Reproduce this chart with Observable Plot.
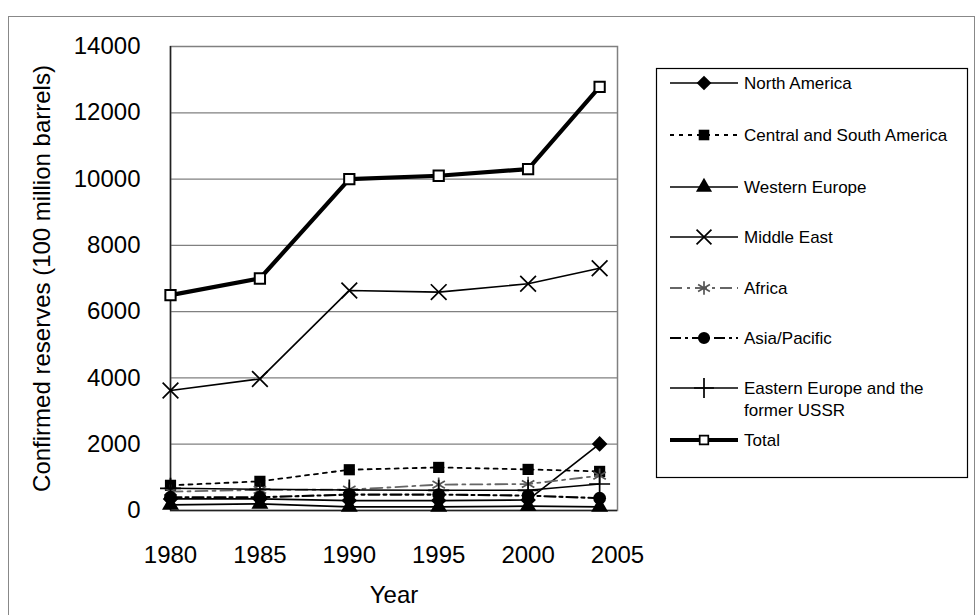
<!DOCTYPE html>
<html><head><meta charset="utf-8">
<script src="https://cdn.jsdelivr.net/npm/d3@7"></script>
<script src="https://cdn.jsdelivr.net/npm/@observablehq/plot@0.6"></script>
<style>
body{margin:0;background:#fff;}
#wrap{position:relative;width:976px;height:615px;overflow:hidden;font-family:"Liberation Sans",Arial,sans-serif;}
#frame{position:absolute;left:8px;top:16px;width:967px;height:640px;border:1.5px solid #888;box-sizing:border-box;}
#chart{position:absolute;left:0;top:0;}
#legend{position:absolute;left:0;top:0;}
</style></head><body>
<div id="wrap"><div id="frame"></div><div id="chart"></div><svg id="legend" width="976" height="615"></svg></div>
<script>
// ---- data ----
const years = [1980, 1985, 1990, 1995, 2000, 2004];
const xTicks = [1980, 1985, 1990, 1995, 2000, 2005];
const yTicks = [0, 2000, 4000, 6000, 8000, 10000, 12000, 14000];
const seriesNames = ["North America", "Central and South America", "Western Europe", "Middle East", "Africa", "Asia/Pacific", "Eastern Europe and the former USSR", "Total"];
const northAmerica = [350, 350, 300, 300, 320, 2010];
const centralSouthAmerica = [760, 880, 1230, 1300, 1240, 1180];
const westernEurope = [170, 200, 110, 110, 130, 110];
const middleEast = [3620, 3970, 6640, 6590, 6840, 7310];
const africa = [570, 620, 630, 780, 800, 1050];
const asiaPacific = [400, 400, 480, 480, 450, 370];
const easternEurope = [670, 640, 620, 610, 610, 800];
const total = [6500, 7000, 10000, 10100, 10300, 12780];

const valuesList = [northAmerica, centralSouthAmerica, westernEurope, middleEast, africa, asiaPacific, easternEurope, total];
const styles = [
  {symbol: "diamond2", r: 7, fill: "#000", stroke: "none", color: "#000", width: 1.7, dash: null},
  {symbol: "square", r: 6.3, fill: "#000", stroke: "none", color: "#000", width: 1.8, dash: "4,5"},
  {symbol: "triangle", r: 6.3, fill: "#000", stroke: "none", color: "#000", width: 1.7, dash: null},
  {symbol: "times", r: 7.2, fill: "none", stroke: "#000", color: "#000", width: 1.6, dash: null},
  {symbol: "asterisk", r: 6.8, fill: "none", stroke: "#555", color: "#666", width: 1.8, dash: "12,5,3,5"},
  {symbol: "circle", r: 6.4, fill: "#000", stroke: "none", color: "#000", width: 2.1, dash: "11,4,3,4"},
  {symbol: "plus", r: 6.8, fill: "none", stroke: "#000", color: "#000", width: 1.6, dash: null},
  {symbol: "square", r: 5.8, fill: "#fff", stroke: "#000", color: "#000", width: 4.2, dash: null}
];

const series = seriesNames.map((name, i) => ({
  name, ...styles[i],
  rows: years.map((y, j) => ({year: y, value: valuesList[i][j], name}))
}));

const seriesMarks = series.flatMap(s => [
  Plot.line(s.rows, {x: "year", y: "value", stroke: s.color, strokeWidth: s.width, strokeDasharray: s.dash || undefined}),
  Plot.dot(s.rows, {x: "year", y: "value", symbol: () => s.symbol, r: s.r,
    fill: s.fill, stroke: s.stroke, strokeWidth: s.symbol === "square" && s.fill === "#fff" ? 2 : 1.7})
]);

const chart = Plot.plot({
  width: 976, height: 615,
  marginLeft: 170, marginRight: 359, marginTop: 46, marginBottom: 105,
  style: {fontFamily: "'Liberation Sans', Arial, sans-serif", fontSize: "24px", color: "#000", background: "transparent", overflow: "visible"},
  x: {domain: [1980, 2005]},
  y: {domain: [0, 14000]},
  marks: [
    Plot.ruleY(yTicks.filter(v => v > 0 && v < 14000), {stroke: "#808080", strokeWidth: 1.3}),
    Plot.frame({stroke: "#808080", strokeWidth: 1.5}),
    Plot.axisX(xTicks, {tickSize: 0, tickPadding: 35, tickFormat: d => String(d), fontSize: 24,
      label: "Year", labelAnchor: "center", labelOffset: 92, labelArrow: "none"}),
    Plot.axisY(yTicks, {tickSize: 0, tickPadding: 30, tickFormat: d => String(d), fontSize: 24,
      label: "Confirmed reserves (100 million barrels)", labelAnchor: "center", labelOffset: 138, labelArrow: "none"}),
    Plot.ruleX([1980], {stroke: "#222", strokeWidth: 1.5}),
    Plot.ruleY([0], {stroke: "#222", strokeWidth: 1.5}),
    ...seriesMarks
  ]
});
document.getElementById("chart").appendChild(chart);

// ---- legend ----
const lg = d3.select("#legend");
lg.append("rect").attr("x", 656.5).attr("y", 68.5).attr("width", 311).attr("height", 409)
  .attr("fill", "#fff").attr("stroke", "#000").attr("stroke-width", 1.2);
const legendY = [83, 135, 187, 237, 288, 338, 388, 440];
const symMap = {diamond2: d3.symbolDiamond2, square: d3.symbolSquare, triangle: d3.symbolTriangle,
  times: d3.symbolTimes, asterisk: d3.symbolAsterisk, circle: d3.symbolCircle, plus: d3.symbolPlus};
series.forEach((s, i) => {
  const y = legendY[i];
  lg.append("line").attr("x1", 670).attr("x2", 738).attr("y1", y).attr("y2", y)
    .attr("stroke", s.color).attr("stroke-width", s.width)
    .attr("stroke-dasharray", s.dash);
  const size = Math.PI * s.r * s.r * (i === 7 ? 0.7 : 0.9);
  lg.append("path").attr("transform", `translate(704,${y})`)
    .attr("d", d3.symbol(symMap[s.symbol], size)())
    .attr("fill", s.fill).attr("stroke", s.stroke).attr("stroke-width", 1.7);
  const t = lg.append("text").attr("x", 744).attr("y", y + 6)
    .attr("font-family", "'Liberation Sans', Arial, sans-serif").attr("font-size", 17).attr("fill", "#000");
  if (s.name === "Eastern Europe and the former USSR") {
    t.append("tspan").attr("x", 744).attr("y", y + 6).text("Eastern Europe and the");
    t.append("tspan").attr("x", 744).attr("y", y + 28).text("former USSR");
  } else {
    t.text(s.name);
  }
});
</script>
</body></html>
